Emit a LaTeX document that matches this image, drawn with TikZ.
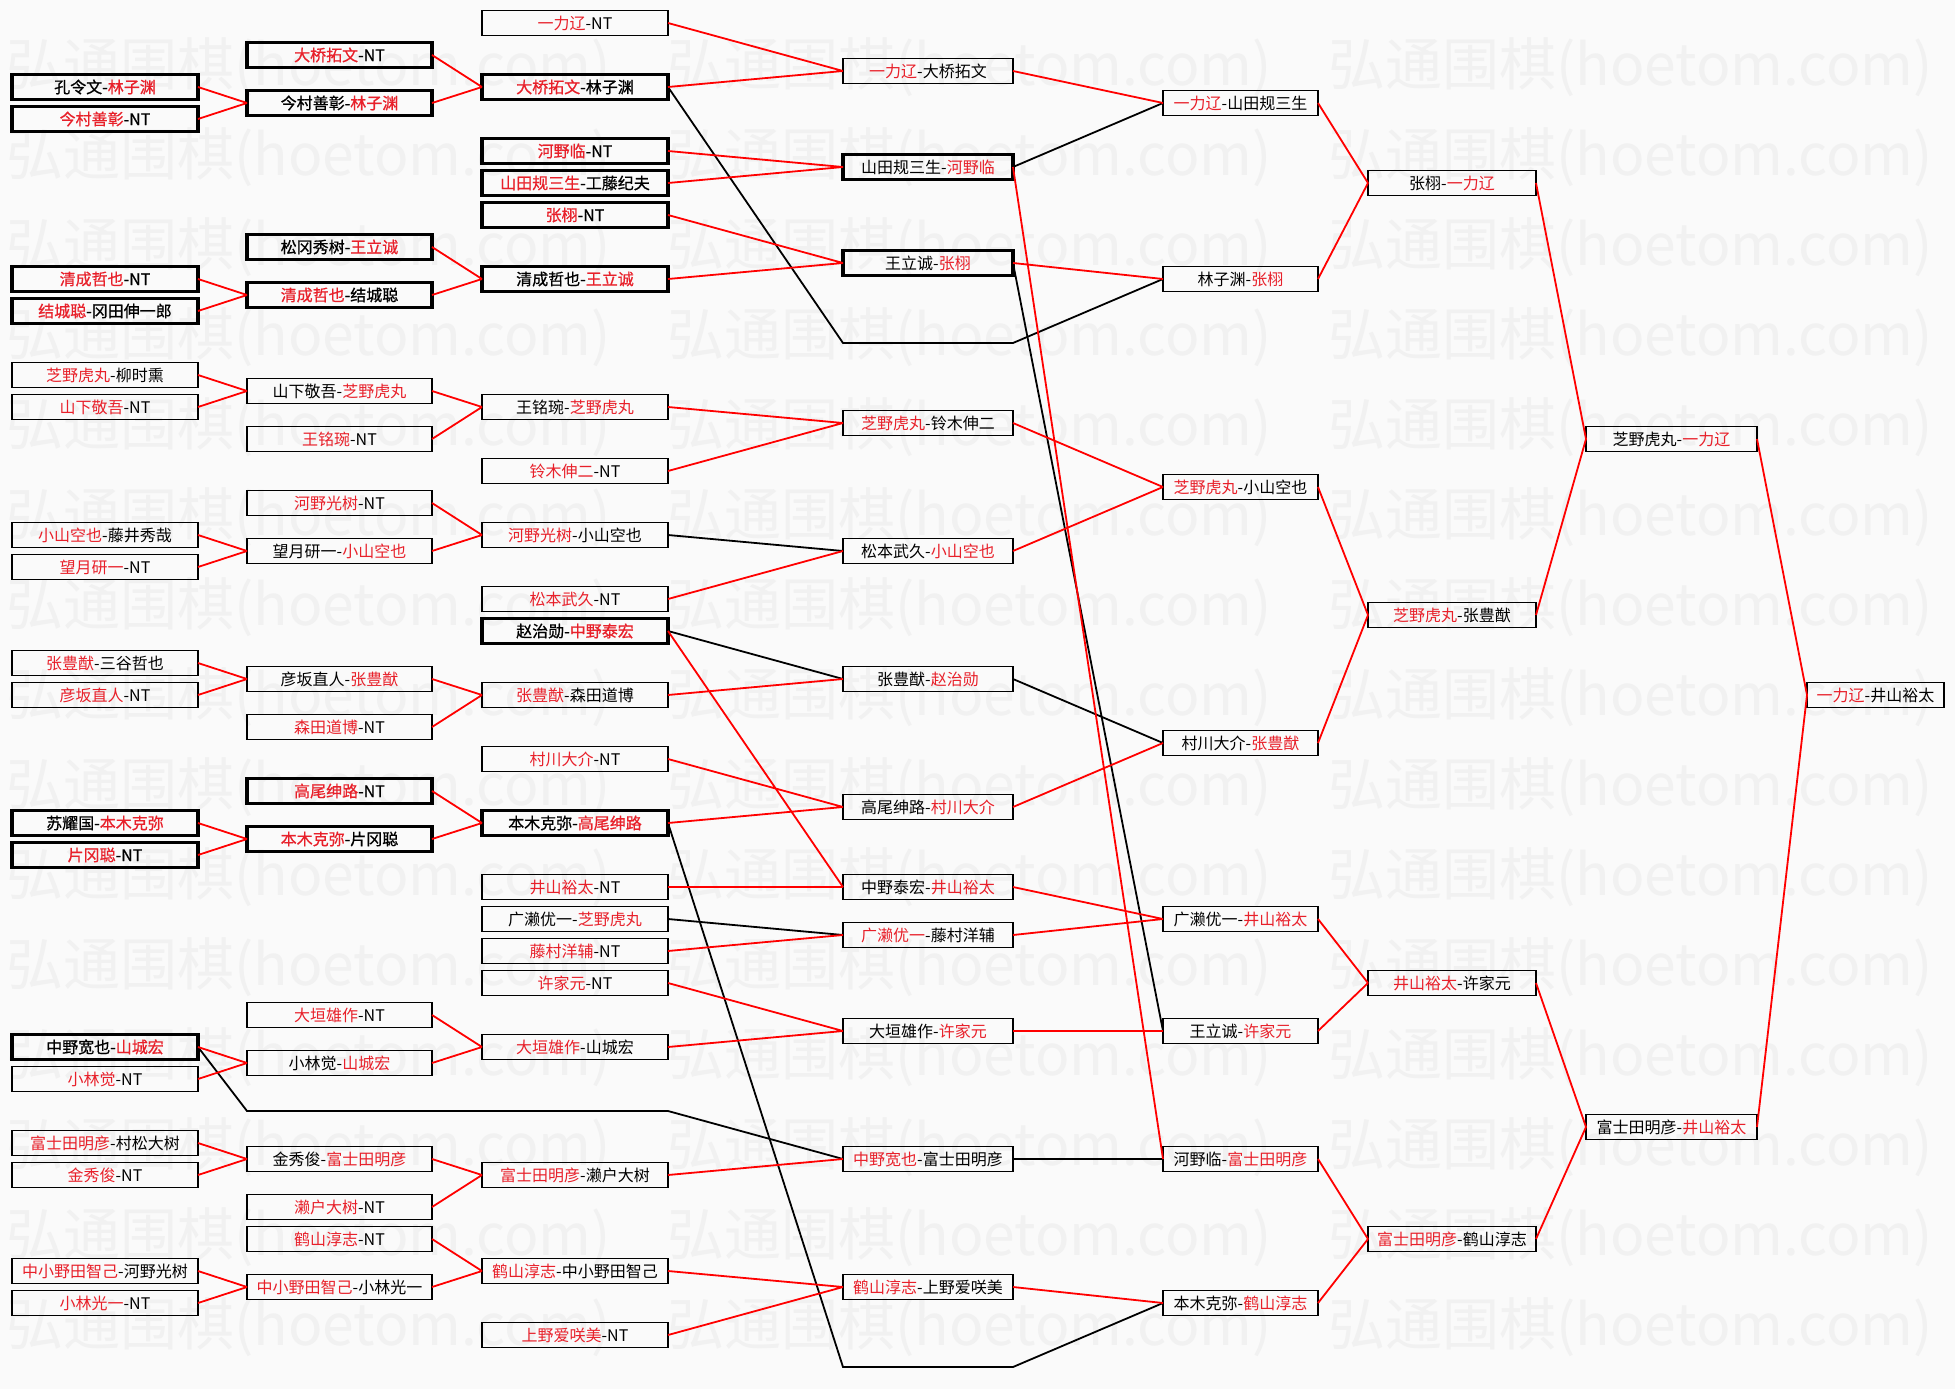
\documentclass[tikz,border=0pt]{standalone}
\usepackage{fontspec}
\setmainfont{Noto Sans CJK SC}
\newfontfamily\heavyface{Noto Sans CJK SC}[FakeBold=0.8]

\definecolor{namered}{HTML}{E8202A}
\definecolor{linered}{HTML}{FF0000}
\definecolor{paper}{HTML}{FAFAFA}
\definecolor{wmgray}{HTML}{F1F1F1}
\newcommand\win[1]{\textcolor{namered}{#1}}

\begin{document}
\begin{tikzpicture}[
  x=1pt,
  y=-32pt,
  font=\fontsize{16}{18}\selectfont,
  box/.style={draw=black,line width=1.8pt,minimum height=25pt,inner sep=0pt,outer sep=0pt},
  tbox/.style={box,line width=3.4pt},
  hbox/.style={tbox,font=\fontsize{16}{18}\selectfont\heavyface},
  wa/.style={minimum width=186pt},
  wb/.style={minimum width=185pt},
  wd/.style={minimum width=170pt},
  we/.style={minimum width=155pt},
  wf/.style={minimum width=168pt},
  wg/.style={minimum width=171pt},
  wh/.style={minimum width=137pt},
  wline/.style={draw=linered,line width=1.8pt},
  lline/.style={draw=black,line width=1.8pt},
  wmark/.style={text=wmgray,font=\fontsize{57}{57}\selectfont,inner sep=0pt,anchor=west}
]
\path[use as bounding box,fill=paper] (0,-0.71875) rectangle (1955,42.6875);

% watermark
\foreach \k in {0,...,14}
  \foreach \j in {0,1,2}
    \node[wmark] (wm\k\j) at ({6+661*\j},{(44+90*\k)/32}) {弘通围棋(hoetom.com)};

% round 1
\node[hbox,wa] (a1) at (105,2) {孔令文-\win{林子渊}};
\node[hbox,wa] (a2) at (105,3) {\win{今村善彰}-NT};
\node[hbox,wa] (a3) at (105,8) {\win{清成哲也}-NT};
\node[hbox,wa] (a4) at (105,9) {\win{结城聪}-冈田伸一郎};
\node[box,wa] (a5) at (105,11) {\win{芝野虎丸}-柳时熏};
\node[box,wa] (a6) at (105,12) {\win{山下敬吾}-NT};
\node[box,wa] (a7) at (105,16) {\win{小山空也}-藤井秀哉};
\node[box,wa] (a8) at (105,17) {\win{望月研一}-NT};
\node[box,wa] (a9) at (105,20) {\win{张豊猷}-三谷哲也};
\node[box,wa] (a10) at (105,21) {\win{彦坂直人}-NT};
\node[hbox,wa] (a11) at (105,25) {苏耀国-\win{本木克弥}};
\node[hbox,wa] (a12) at (105,26) {\win{片冈聪}-NT};
\node[hbox,wa] (a13) at (105,32) {中野宽也-\win{山城宏}};
\node[box,wa] (a14) at (105,33) {\win{小林觉}-NT};
\node[box,wa] (a15) at (105,35) {\win{富士田明彦}-村松大树};
\node[box,wa] (a16) at (105,36) {\win{金秀俊}-NT};
\node[box,wa] (a17) at (105,39) {\win{中小野田智己}-河野光树};
\node[box,wa] (a18) at (105,40) {\win{小林光一}-NT};

% round 2
\node[hbox,wb] (b1) at (339.5,1) {\win{大桥拓文}-NT};
\node[hbox,wb] (b2) at (339.5,2.5) {今村善彰-\win{林子渊}};
\node[hbox,wb] (b3) at (339.5,7) {松冈秀树-\win{王立诚}};
\node[hbox,wb] (b4) at (339.5,8.5) {\win{清成哲也}-结城聪};
\node[box,wb] (b5) at (339.5,11.5) {山下敬吾-\win{芝野虎丸}};
\node[box,wb] (b6) at (339.5,13) {\win{王铭琬}-NT};
\node[box,wb] (b7) at (339.5,15) {\win{河野光树}-NT};
\node[box,wb] (b8) at (339.5,16.5) {望月研一-\win{小山空也}};
\node[box,wb] (b9) at (339.5,20.5) {彦坂直人-\win{张豊猷}};
\node[box,wb] (b10) at (339.5,22) {\win{森田道博}-NT};
\node[hbox,wb] (b11) at (339.5,24) {\win{高尾绅路}-NT};
\node[hbox,wb] (b12) at (339.5,25.5) {\win{本木克弥}-片冈聪};
\node[box,wb] (b13) at (339.5,31) {\win{大垣雄作}-NT};
\node[box,wb] (b14) at (339.5,32.5) {小林觉-\win{山城宏}};
\node[box,wb] (b15) at (339.5,35.5) {金秀俊-\win{富士田明彦}};
\node[box,wb] (b16) at (339.5,37) {\win{濑户大树}-NT};
\node[box,wb] (b17) at (339.5,38) {\win{鹤山淳志}-NT};
\node[box,wb] (b18) at (339.5,39.5) {\win{中小野田智己}-小林光一};

% round 3
\node[box,wa] (c1) at (575,0) {\win{一力辽}-NT};
\node[hbox,wa] (c2) at (575,2) {\win{大桥拓文}-林子渊};
\node[hbox,wa] (c3) at (575,4) {\win{河野临}-NT};
\node[hbox,wa] (c4) at (575,5) {\win{山田规三生}-工藤纪夫};
\node[hbox,wa] (c5) at (575,6) {\win{张栩}-NT};
\node[hbox,wa] (c6) at (575,8) {清成哲也-\win{王立诚}};
\node[box,wa] (c7) at (575,12) {王铭琬-\win{芝野虎丸}};
\node[box,wa] (c8) at (575,14) {\win{铃木伸二}-NT};
\node[box,wa] (c9) at (575,16) {\win{河野光树}-小山空也};
\node[box,wa] (c10) at (575,18) {\win{松本武久}-NT};
\node[hbox,wa] (c11) at (575,19) {赵治勋-\win{中野泰宏}};
\node[box,wa] (c12) at (575,21) {\win{张豊猷}-森田道博};
\node[box,wa] (c13) at (575,23) {\win{村川大介}-NT};
\node[hbox,wa] (c14) at (575,25) {本木克弥-\win{高尾绅路}};
\node[box,wa] (c15) at (575,27) {\win{井山裕太}-NT};
\node[box,wa] (c16) at (575,28) {广濑优一-\win{芝野虎丸}};
\node[box,wa] (c17) at (575,29) {\win{藤村洋辅}-NT};
\node[box,wa] (c18) at (575,30) {\win{许家元}-NT};
\node[box,wa] (c19) at (575,32) {\win{大垣雄作}-山城宏};
\node[box,wa] (c20) at (575,36) {\win{富士田明彦}-濑户大树};
\node[box,wa] (c21) at (575,39) {\win{鹤山淳志}-中小野田智己};
\node[box,wa] (c22) at (575,41) {\win{上野爱咲美}-NT};

% round 4
\node[box,wd] (d1) at (928,1.5) {\win{一力辽}-大桥拓文};
\node[tbox,wd] (d2) at (928,4.5) {山田规三生-\win{河野临}};
\node[tbox,wd] (d3) at (928,7.5) {王立诚-\win{张栩}};
\node[box,wd] (d4) at (928,12.5) {\win{芝野虎丸}-铃木伸二};
\node[box,wd] (d5) at (928,16.5) {松本武久-\win{小山空也}};
\node[box,wd] (d6) at (928,20.5) {张豊猷-\win{赵治勋}};
\node[box,wd] (d7) at (928,24.5) {高尾绅路-\win{村川大介}};
\node[box,wd] (d8) at (928,27) {中野泰宏-\win{井山裕太}};
\node[box,wd] (d9) at (928,28.5) {\win{广濑优一}-藤村洋辅};
\node[box,wd] (d10) at (928,31.5) {大垣雄作-\win{许家元}};
\node[box,wd] (d11) at (928,35.5) {\win{中野宽也}-富士田明彦};
\node[box,wd] (d12) at (928,39.5) {\win{鹤山淳志}-上野爱咲美};

% round 5
\node[box,we] (e1) at (1240.5,2.5) {\win{一力辽}-山田规三生};
\node[box,we] (e2) at (1240.5,8) {林子渊-\win{张栩}};
\node[box,we] (e3) at (1240.5,14.5) {\win{芝野虎丸}-小山空也};
\node[box,we] (e4) at (1240.5,22.5) {村川大介-\win{张豊猷}};
\node[box,we] (e5) at (1240.5,28) {广濑优一-\win{井山裕太}};
\node[box,we] (e6) at (1240.5,31.5) {王立诚-\win{许家元}};
\node[box,we] (e7) at (1240.5,35.5) {河野临-\win{富士田明彦}};
\node[box,we] (e8) at (1240.5,40) {本木克弥-\win{鹤山淳志}};

% round 6 to final
\node[box,wf] (f1) at (1452,5) {张栩-\win{一力辽}};
\node[box,wf] (f2) at (1452,18.5) {\win{芝野虎丸}-张豊猷};
\node[box,wf] (f3) at (1452,30) {\win{井山裕太}-许家元};
\node[box,wf] (f4) at (1452,38) {\win{富士田明彦}-鹤山淳志};
\node[box,wg] (g1) at (1671.5,13) {芝野虎丸-\win{一力辽}};
\node[box,wg] (g2) at (1671.5,34.5) {富士田明彦-\win{井山裕太}};
\node[box,wh] (h1) at (1875.5,21) {\win{一力辽}-井山裕太};

% empty slots of the bye paths
\coordinate (gapa) at (247,34);
\coordinate (gapb) at (668,34);
\coordinate (gapc) at (843,10);
\coordinate (gapd) at (1013,10);
\coordinate (gape) at (843,42);
\coordinate (gapf) at (1013,42);

% losers
\draw[lline] (c2.east) -- (gapc) -- (gapd) -- (e2.west);
\draw[lline] (a13.east) -- (gapa) -- (gapb) -- (d11.west);
\draw[lline] (c14.east) -- (gape) -- (gapf) -- (e8.west);
\draw[lline] (c9.east) -- (d5.west) (c11.east) -- (d6.west) (c16.east) -- (d9.west);
\draw[lline] (d2.east) -- (e1.west) (d3.east) -- (e6.west) (d6.east) -- (e4.west)
  (d11.east) -- (e7.west);

% winners
\draw[wline] (a1.east) -- (b2.west) (a2.east) -- (b2.west)
  (a3.east) -- (b4.west) (a4.east) -- (b4.west)
  (a5.east) -- (b5.west) (a6.east) -- (b5.west)
  (a7.east) -- (b8.west) (a8.east) -- (b8.west)
  (a9.east) -- (b9.west) (a10.east) -- (b9.west)
  (a11.east) -- (b12.west) (a12.east) -- (b12.west)
  (a13.east) -- (b14.west) (a14.east) -- (b14.west)
  (a15.east) -- (b15.west) (a16.east) -- (b15.west)
  (a17.east) -- (b18.west) (a18.east) -- (b18.west);
\draw[wline] (b1.east) -- (c2.west) (b2.east) -- (c2.west)
  (b3.east) -- (c6.west) (b4.east) -- (c6.west)
  (b5.east) -- (c7.west) (b6.east) -- (c7.west)
  (b7.east) -- (c9.west) (b8.east) -- (c9.west)
  (b9.east) -- (c12.west) (b10.east) -- (c12.west)
  (b11.east) -- (c14.west) (b12.east) -- (c14.west)
  (b13.east) -- (c19.west) (b14.east) -- (c19.west)
  (b15.east) -- (c20.west) (b16.east) -- (c20.west)
  (b17.east) -- (c21.west) (b18.east) -- (c21.west);
\draw[wline] (c1.east) -- (d1.west) (c2.east) -- (d1.west)
  (c3.east) -- (d2.west) (c4.east) -- (d2.west)
  (c5.east) -- (d3.west) (c6.east) -- (d3.west)
  (c7.east) -- (d4.west) (c8.east) -- (d4.west)
  (c10.east) -- (d5.west) (c12.east) -- (d6.west)
  (c13.east) -- (d7.west) (c14.east) -- (d7.west)
  (c11.east) -- (d8.west) (c15.east) -- (d8.west)
  (c17.east) -- (d9.west)
  (c18.east) -- (d10.west) (c19.east) -- (d10.west)
  (c20.east) -- (d11.west)
  (c21.east) -- (d12.west) (c22.east) -- (d12.west);
\draw[wline] (d1.east) -- (e1.west) (d3.east) -- (e2.west)
  (d4.east) -- (e3.west) (d5.east) -- (e3.west)
  (d7.east) -- (e4.west)
  (d8.east) -- (e5.west) (d9.east) -- (e5.west)
  (d10.east) -- (e6.west) (d2.east) -- (e7.west) (d12.east) -- (e8.west);
\draw[wline] (e1.east) -- (f1.west) (e2.east) -- (f1.west)
  (e3.east) -- (f2.west) (e4.east) -- (f2.west)
  (e5.east) -- (f3.west) (e6.east) -- (f3.west)
  (e7.east) -- (f4.west) (e8.east) -- (f4.west);
\draw[wline] (f1.east) -- (g1.west) (f2.east) -- (g1.west)
  (f3.east) -- (g2.west) (f4.east) -- (g2.west);
\draw[wline] (g1.east) -- (h1.west) (g2.east) -- (h1.west);
\end{tikzpicture}
\end{document}
